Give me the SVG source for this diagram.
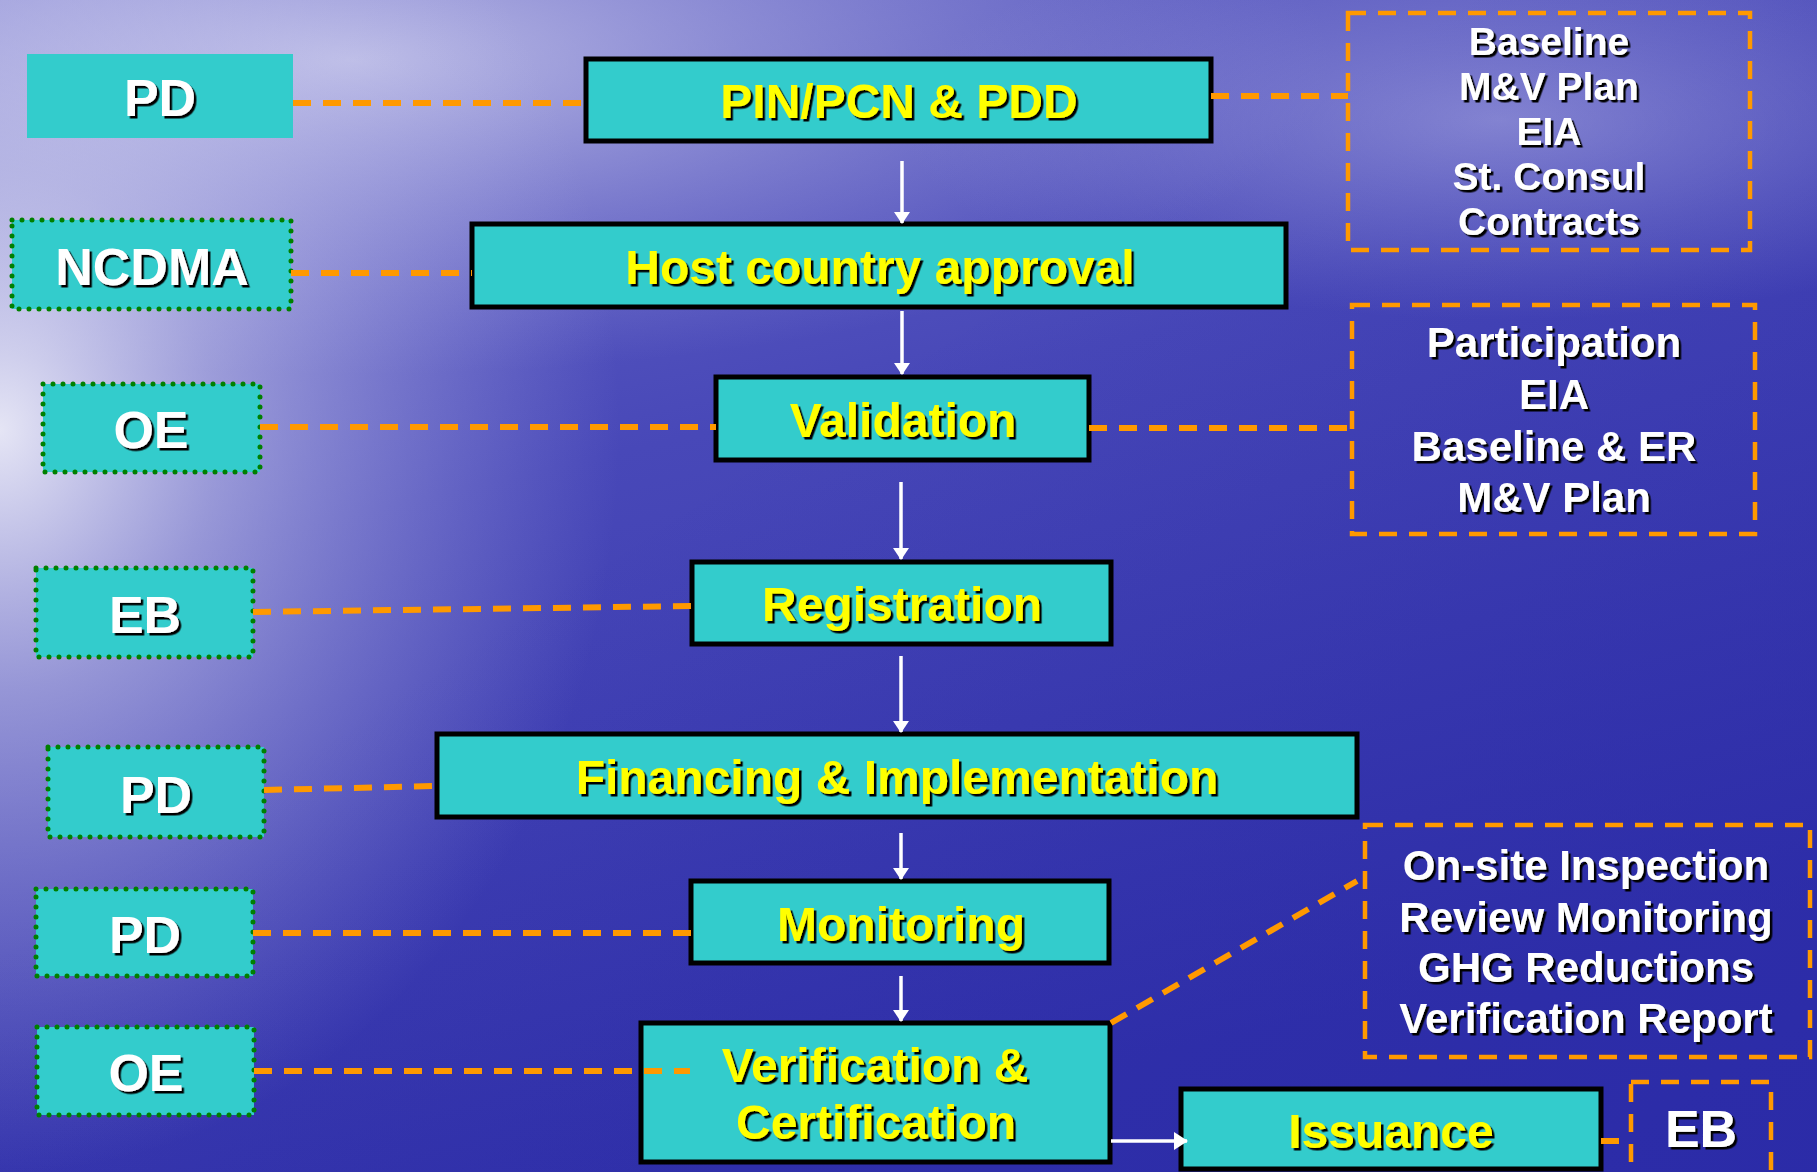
<svg xmlns="http://www.w3.org/2000/svg" width="1817" height="1172" viewBox="0 0 1817 1172">
<defs>
<linearGradient id="bg" x1="0" y1="0" x2="0.35" y2="1">
<stop offset="0" stop-color="#6c6cc8"/>
<stop offset="0.45" stop-color="#4848b8"/>
<stop offset="1" stop-color="#3434ac"/>
</linearGradient>
<radialGradient id="glowL" cx="0" cy="430" r="620" gradientUnits="userSpaceOnUse" gradientTransform="translate(0 430) scale(1 1.2) translate(0 -430)">
<stop offset="0" stop-color="#ffffff" stop-opacity="0.85"/>
<stop offset="0.35" stop-color="#e6e6f6" stop-opacity="0.5"/>
<stop offset="1" stop-color="#c0c0f0" stop-opacity="0"/>
</radialGradient>
<radialGradient id="glowT" cx="350" cy="60" r="700" gradientUnits="userSpaceOnUse" gradientTransform="translate(350 60) scale(1.4 0.45) translate(-350 -60)">
<stop offset="0" stop-color="#d8d8f0" stop-opacity="0.75"/>
<stop offset="1" stop-color="#a0a0e0" stop-opacity="0"/>
</radialGradient>
<radialGradient id="glowTR" cx="1500" cy="120" r="400" gradientUnits="userSpaceOnUse" gradientTransform="translate(1500 120) scale(1.5 0.5) translate(-1500 -120)">
<stop offset="0" stop-color="#b8b8e8" stop-opacity="0.5"/>
<stop offset="1" stop-color="#a0a0e0" stop-opacity="0"/>
</radialGradient>
<linearGradient id="deep" x1="0" y1="0" x2="1" y2="1">
<stop offset="0.4" stop-color="#2020a0" stop-opacity="0"/>
<stop offset="1" stop-color="#2424a4" stop-opacity="0.55"/>
</linearGradient>
<filter id="sh" x="-10%" y="-30%" width="120%" height="160%">
<feDropShadow dx="2.5" dy="2.5" stdDeviation="0.4" flood-color="#000000" flood-opacity="1"/>
</filter>
<marker id="ah" viewBox="0 0 12 16" refX="11" refY="8" markerWidth="12" markerHeight="16" markerUnits="userSpaceOnUse" orient="auto">
<path d="M0,0 L12,8 L0,16 Z" fill="#ffffff"/>
</marker>
<marker id="ah2" viewBox="0 0 14 18" refX="13" refY="9" markerWidth="14" markerHeight="18" markerUnits="userSpaceOnUse" orient="auto">
<path d="M0,0 L14,9 L0,18 Z" fill="#ffffff"/>
</marker>
<style>
.step{fill:#33cccc;stroke:#000000;stroke-width:5}
.actor{fill:#33cccc}
.dotted{fill:#33cccc;stroke:#008000;stroke-width:5;stroke-dasharray:0 10;stroke-linecap:round}
.note{fill:none;stroke:#ff9900;stroke-width:4.5;stroke-dasharray:18 12}
.dash{fill:none;stroke:#ff9900;stroke-width:6;stroke-dasharray:18 12}
.arrow{fill:none;stroke:#ffffff;stroke-width:3.5}
.yt{font-family:"Liberation Sans",Arial,sans-serif;font-weight:bold;font-size:48px;fill:#ffff00;text-anchor:middle;filter:url(#sh)}
.wt{font-family:"Liberation Sans",Arial,sans-serif;font-weight:bold;font-size:52px;fill:#ffffff;text-anchor:middle;filter:url(#sh)}
.nt{font-family:"Liberation Sans",Arial,sans-serif;font-weight:bold;font-size:42px;fill:#ffffff;text-anchor:middle;filter:url(#sh)}
.nts{font-family:"Liberation Sans",Arial,sans-serif;font-weight:bold;font-size:39px;fill:#ffffff;text-anchor:middle;filter:url(#sh)}
</style>
</defs>

<g id="background">
<rect x="0" y="0" width="1817" height="1172" fill="url(#bg)"/>
<rect x="0" y="0" width="1817" height="1172" fill="url(#deep)"/>
<rect x="0" y="0" width="1817" height="1172" fill="url(#glowT)"/>
<rect x="0" y="0" width="1817" height="1172" fill="url(#glowTR)"/>
<rect x="0" y="0" width="1817" height="1172" fill="url(#glowL)"/>
</g>

<g id="nodes">
<g id="pd1"><rect class="actor" x="27" y="54" width="266" height="84"/><text class="wt" x="160" y="116">PD</text></g>
<g id="ncdma"><rect class="dotted" x="12" y="220" width="279" height="89"/><text class="wt" x="152" y="285">NCDMA</text></g>
<g id="oe1"><rect class="dotted" x="43" y="384" width="217" height="88"/><text class="wt" x="151" y="448">OE</text></g>
<g id="eb1"><rect class="dotted" x="36" y="568" width="217" height="89"/><text class="wt" x="145" y="633">EB</text></g>
<g id="pd2"><rect class="dotted" x="48" y="747" width="216" height="90"/><text class="wt" x="156" y="813">PD</text></g>
<g id="pd3"><rect class="dotted" x="36" y="889" width="217" height="87"/><text class="wt" x="145" y="953">PD</text></g>
<g id="oe2"><rect class="dotted" x="37" y="1027" width="217" height="88"/><text class="wt" x="146" y="1091">OE</text></g>

<g id="pin"><rect class="step" x="586" y="59" width="625" height="82"/><text class="yt" x="899" y="118">PIN/PCN &amp; PDD</text></g>
<g id="host"><rect class="step" x="472" y="224" width="814" height="83"/><text class="yt" x="880" y="284">Host country approval</text></g>
<g id="validation"><rect class="step" x="716" y="377" width="373" height="83"/><text class="yt" x="903" y="437">Validation</text></g>
<g id="registration"><rect class="step" x="692" y="562" width="419" height="82"/><text class="yt" x="902" y="621">Registration</text></g>
<g id="financing"><rect class="step" x="437" y="734" width="920" height="83"/><text class="yt" x="897" y="794">Financing &amp; Implementation</text></g>
<g id="monitoring"><rect class="step" x="691" y="881" width="418" height="82"/><text class="yt" x="901" y="941">Monitoring</text></g>
<g id="verification"><rect class="step" x="641" y="1023" width="469" height="139"/><text class="yt" x="875" y="1082">Verification &amp;</text><text class="yt" x="876" y="1139">Certification</text></g>
<g id="issuance"><rect class="step" x="1181" y="1089" width="420" height="80"/><text class="yt" x="1391" y="1148">Issuance</text></g>

<g id="note-pdd"><rect class="note" x="1348" y="13" width="402" height="237"/>
<text class="nts" x="1549" y="55">Baseline</text><text class="nts" x="1549" y="100">M&amp;V Plan</text><text class="nts" x="1549" y="145">EIA</text><text class="nts" x="1549" y="190">St. Consul</text><text class="nts" x="1549" y="235">Contracts</text></g>
<g id="note-validation"><rect class="note" x="1352" y="305" width="403" height="229"/>
<text class="nt" x="1554" y="357">Participation</text><text class="nt" x="1554" y="409">EIA</text><text class="nt" x="1554" y="461">Baseline &amp; ER</text><text class="nt" x="1554" y="512">M&amp;V Plan</text></g>
<g id="note-verification"><rect class="note" x="1365" y="825" width="445" height="232"/>
<text class="nt" x="1586" y="880">On-site Inspection</text><text class="nt" x="1586" y="932">Review Monitoring</text><text class="nt" x="1586" y="982">GHG Reductions</text><text class="nt" x="1586" y="1033">Verification Report</text></g>
<g id="eb2"><rect class="note" x="1631" y="1082" width="140" height="110"/><text class="wt" x="1701" y="1147">EB</text></g>
</g>

<g id="connectors">
<line class="dash" x1="293" y1="103" x2="586" y2="103"/>
<line class="dash" x1="291" y1="273" x2="472" y2="273"/>
<line class="dash" x1="1211" y1="96" x2="1348" y2="96"/>
<line class="dash" x1="260" y1="427" x2="716" y2="427"/>
<line class="dash" x1="1089" y1="428" x2="1352" y2="428"/>
<line class="dash" x1="253" y1="612" x2="692" y2="606"/>
<line class="dash" x1="264" y1="790" x2="437" y2="786"/>
<line class="dash" x1="253" y1="933" x2="691" y2="933"/>
<line class="dash" x1="254" y1="1071" x2="690" y2="1071"/>
<line class="dash" x1="1111" y1="1023" x2="1357" y2="881"/>
<line class="dash" x1="1601" y1="1141" x2="1631" y2="1141" stroke-dasharray="none"/>
<line class="arrow" x1="902" y1="161" x2="902" y2="223" marker-end="url(#ah)"/>
<line class="arrow" x1="902" y1="311" x2="902" y2="374" marker-end="url(#ah)"/>
<line class="arrow" x1="901" y1="482" x2="901" y2="559" marker-end="url(#ah)"/>
<line class="arrow" x1="901" y1="656" x2="901" y2="732" marker-end="url(#ah)"/>
<line class="arrow" x1="901" y1="833" x2="901" y2="879" marker-end="url(#ah)"/>
<line class="arrow" x1="901" y1="976" x2="901" y2="1021" marker-end="url(#ah)"/>
<line class="arrow" x1="1111" y1="1141" x2="1187" y2="1141" stroke-width="5" marker-end="url(#ah2)"/>
</g>
</svg>
